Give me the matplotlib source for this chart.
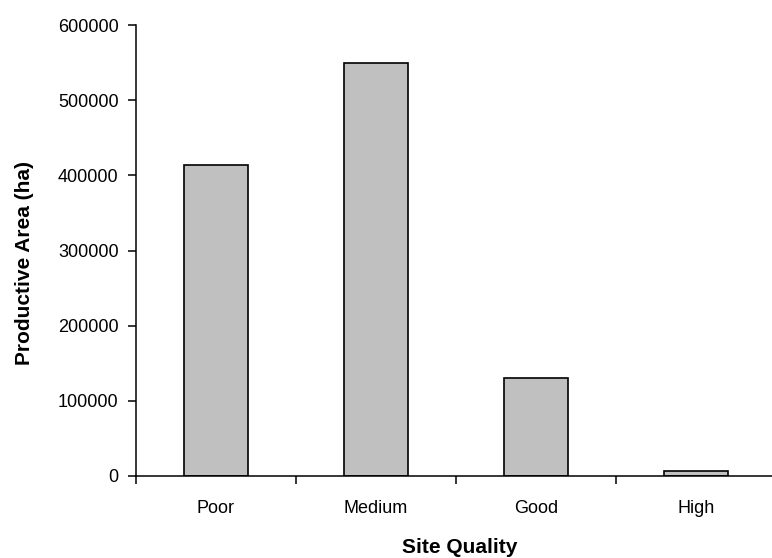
import matplotlib.pyplot as plt
import numpy as np

categories = ["Poor", "Medium", "Good", "High"]
area = [414000, 549000, 130000, 6000]
yticks = [0, 100000, 200000, 300000, 400000, 500000, 600000]

plt.rcParams["font.family"] = ["Liberation Sans", "DejaVu Sans"]

fig = plt.figure(figsize=(7.72, 5.58), dpi=100)
# axis runs a little past the right edge, like the original
ax = fig.add_axes([136 / 772, 82 / 558, 640 / 772, 451 / 558])

pos = np.arange(len(categories)) + 0.5
ax.bar(pos, area, width=0.4, color="#c0c0c0", edgecolor="black", linewidth=1.2)

ax.set_xlim(0, len(categories))
ax.set_ylim(0, 600000)
ax.set_yticks(yticks)
ax.set_yticklabels([str(t) for t in yticks])

ax.set_xticks(np.arange(len(categories) + 1))
ax.set_xticklabels([])
ax.set_xticks(pos, minor=True)
ax.set_xticklabels(categories, minor=True)
ax.tick_params(axis="x", which="major", direction="out", length=6, width=1.1)
ax.tick_params(axis="x", which="minor", length=0, pad=17, labelsize=13)
ax.tick_params(axis="y", direction="out", length=6, width=1.1, pad=6.5, labelsize=13)

for s in ["top", "right"]:
    ax.spines[s].set_visible(False)
for s in ["left", "bottom"]:
    ax.spines[s].set_linewidth(1.1)

fig.text(25 / 772, 1 - 263 / 558, "Productive Area (ha)", rotation=90,
         ha="center", va="center", fontsize=15, fontweight="bold")
fig.text(460 / 772, 1 - 553 / 558, "Site Quality",
         ha="center", va="baseline", fontsize=15, fontweight="bold")

fig.savefig("out.png", dpi=100)
